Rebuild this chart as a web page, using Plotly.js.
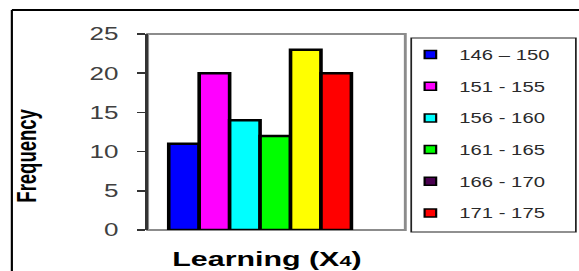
<!DOCTYPE html>
<html>
<head>
<meta charset="utf-8">
<script src="https://cdn.plot.ly/plotly-3.0.1.min.js"></script>
<style>
  html, body { margin: 0; padding: 0; background: #ffffff; overflow: hidden; }
  #wrap { width: 579px; height: 271px; overflow: hidden; }
  #chart { width: 400px; height: 271px; transform: scaleX(1.4475); transform-origin: 0 0; }
</style>
</head>
<body>
<div id="wrap"><div id="chart"></div></div>
<script>
// ---- data ----
const groupCategory = ['Learning (X4)'];
const classLabels = ['146 \u2013 150', '151 - 155', '156 - 160', '161 - 165', '166 - 170', '171 - 175'];
const frequencies = [11, 20, 14, 12, 23, 20];
const barColors = ['#0000FF', '#FF00FF', '#00FFFF', '#00FF00', '#FFFF00', '#FF0000'];
const legendColors = ['#0000FF', '#FF00FF', '#00FFFF', '#00FF00', '#4A0050', '#FF0000'];
const yTickValues = [0, 5, 10, 15, 20, 25];

const FONT = '"Liberation Sans", Arial, sans-serif';

const traces = [];
classLabels.forEach(function (lab, i) {
  traces.push({
    type: 'bar',
    x: groupCategory,
    y: [frequencies[i]],
    name: lab,
    legendgroup: 'g' + i,
    showlegend: false,
    marker: { color: barColors[i], line: { color: '#000000', width: 2.5 } },
    hoverinfo: 'y+name'
  });
});
// legend-only entries (the reference legend uses its own swatch colours)
classLabels.forEach(function (lab, i) {
  traces.push({
    type: 'scatter',
    mode: 'markers',
    x: groupCategory,
    y: [null],
    name: lab,
    legendgroup: 'g' + i,
    showlegend: true,
    hoverinfo: 'skip',
    marker: { symbol: 'square', size: 8, color: legendColors[i], line: { color: '#000000', width: 1.5 } }
  });
});

const layout = {
  width: 400,
  height: 271,
  margin: { l: 102.2, r: 119.5, t: 34, b: 41, pad: 0 },
  paper_bgcolor: '#ffffff',
  plot_bgcolor: '#ffffff',
  font: { family: FONT, color: '#333333' },
  barmode: 'group',
  bargap: 0.2,
  bargroupgap: 0,
  showlegend: true,
  legend: {
    x: 0.985, xanchor: 'left',
    y: 0.975, yanchor: 'top',
    bgcolor: 'rgba(0,0,0,0)',
    borderwidth: 0,
    tracegroupgap: 10.5,
    font: { family: FONT, size: 14, color: '#2a2a2a' }
  },
  xaxis: {
    type: 'category',
    range: [-0.4924, 0.636],
    showticklabels: false,
    ticks: '',
    showline: false,
    showgrid: false,
    zeroline: false,
    fixedrange: true
  },
  yaxis: {
    range: [0, 25],
    tickvals: yTickValues,
    ticks: 'outside',
    ticklen: 6,
    tickwidth: 1.5,
    tickcolor: '#333333',
    showline: true,
    linecolor: '#333333',
    linewidth: 1.5,
    showgrid: false,
    zeroline: false,
    ticklabelstandoff: 9,
    tickfont: { family: FONT, size: 18, color: '#404040' },
    fixedrange: true
  },
  shapes: [
    { type: 'rect', xref: 'paper', yref: 'paper', x0: 0, x1: 1, y0: 0, y1: 1,
      line: { color: '#8c8c8c', width: 2 }, layer: 'below' },
    { type: 'rect', xref: 'paper', yref: 'paper', x0: 1.023, x1: 1.662, y0: -0.0102, y1: 0.9796,
      line: { color: '#222222', width: 1.2 }, fillcolor: 'rgba(0,0,0,0)' },
    { type: 'line', xref: 'paper', yref: 'paper', x0: -0.527, x1: 1.75, y0: 1.1224, y1: 1.1224,
      line: { color: '#000000', width: 2 } },
    { type: 'line', xref: 'paper', yref: 'paper', x0: -0.527, x1: -0.527, y0: 1.1224, y1: -0.3,
      line: { color: '#000000', width: 1.5 } }
  ],
  annotations: [
    { text: '<b>Learning (X<span style="font-size:15px">4</span>)</b>', xref: 'paper', yref: 'paper',
      x: 0.4655, y: -0.143, xanchor: 'center', yanchor: 'middle', showarrow: false,
      font: { family: FONT, size: 21, color: '#000000' } },
    { text: '<b>Frequency</b>', xref: 'paper', yref: 'paper', textangle: -90,
      x: -0.468, y: 0.3776, xanchor: 'center', yanchor: 'middle', showarrow: false,
      font: { family: FONT, size: 18.5, color: '#000000' } }
  ]
};

Plotly.newPlot('chart', traces, layout, { displayModeBar: false, staticPlot: true });
</script>
</body>
</html>
